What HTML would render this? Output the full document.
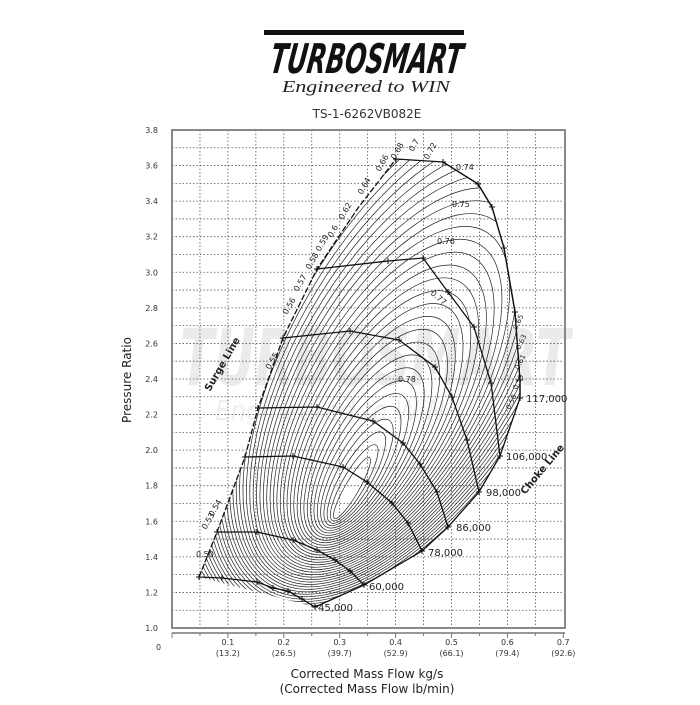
<!DOCTYPE html>
<html><head><meta charset="utf-8"><style>
body{margin:0;background:#fff;width:700px;height:700px;overflow:hidden}
svg text{font-family:"DejaVu Sans","Liberation Sans",sans-serif}
</style></head><body>
<svg id="s" width="700" height="700" viewBox="0 0 700 700" xmlns="http://www.w3.org/2000/svg">
<defs><clipPath id="cp"><path id="cpp" d=""/></clipPath></defs>
<rect width="700" height="700" fill="#fff"/>
<rect x="264" y="30" width="200" height="5" fill="#111"/>
<text x="365" y="73" text-anchor="middle" font-family="Liberation Sans Narrow,Liberation Sans,sans-serif" font-weight="bold" font-style="italic" font-size="41" fill="#111" textLength="192" lengthAdjust="spacingAndGlyphs" transform="skewX(-8) translate(10,0)">TURBOSMART</text>
<text x="366" y="92" text-anchor="middle" font-style="italic" font-size="17" fill="#222" style="font-family:'Liberation Serif',serif" textLength="168" lengthAdjust="spacingAndGlyphs">Engineered to WIN</text>
<text x="367" y="118" text-anchor="middle" font-size="12" fill="#333">TS-1-6262VB082E</text>
<text x="375" y="385" text-anchor="middle" font-weight="bold" font-style="italic" font-size="78" fill="#ebebeb" textLength="390" lengthAdjust="spacingAndGlyphs">TURBOSMART</text>
<text x="330" y="420" text-anchor="middle" font-style="italic" font-size="28" fill="#efefef" textLength="230" lengthAdjust="spacingAndGlyphs">Engineered to WIN</text>
<g id="grid"></g>
<rect x="172" y="130" width="393" height="498" fill="none" stroke="#888" stroke-width="2"/>
<g id="eff" clip-path="url(#cp)" fill="none" stroke="#222" stroke-width="0.7"></g>
<g id="lines" fill="none" stroke="#111" stroke-width="1.3"></g>
<g id="lab" font-size="10" fill="#222"></g>
<text transform="translate(131,380) rotate(-90)" text-anchor="middle" font-size="12" fill="#222">Pressure Ratio</text>
<text x="367" y="678" text-anchor="middle" font-size="12" fill="#222">Corrected Mass Flow kg/s</text>
<text x="367" y="693" text-anchor="middle" font-size="12" fill="#222">(Corrected Mass Flow lb/min)</text>
<text transform="translate(210,392) rotate(-60)" font-size="10" font-weight="bold" fill="#222">Surge Line</text>
<text transform="translate(525,495) rotate(-50)" font-size="10" font-weight="bold" fill="#222">Choke Line</text>
</svg>
<script>
const NS="http://www.w3.org/2000/svg";
function el(p,t,a,txt){const e=document.createElementNS(NS,t);for(const k in a)e.setAttribute(k,a[k]);if(txt!==undefined)e.textContent=txt;document.getElementById(p).appendChild(e);return e;}
for(let i=1;i<14;i++){const x=172+i*27.95;el("grid","line",{x1:x,y1:130,x2:x,y2:628,stroke:"#555","stroke-width":0.8,"stroke-dasharray":"1.5,2"});}
for(let i=1;i<28;i++){const y=628-i*17.786;el("grid","line",{x1:172,y1:y,x2:565,y2:y,stroke:"#555","stroke-width":0.8,"stroke-dasharray":"1.5,2"});}
for(let i=0;i<=14;i++){const v=(1+i*0.2).toFixed(1);el("grid","text",{x:158,y:628-i*35.57+3,"text-anchor":"end","font-size":8,fill:"#333"},v);}
el("grid","line",{x1:172,y1:633,x2:565,y2:633,stroke:"#777","stroke-width":1.5});
const xl=["(13.2)","(26.5)","(39.7)","(52.9)","(66.1)","(79.4)","(92.6)"];
for(let i=0;i<=14;i++){const x=172+i*27.95;el("grid","line",{x1:x,y1:633,x2:x,y2:i%2?636:638,stroke:"#777"});}
for(let i=1;i<=7;i++){const x=172+i*55.9;el("grid","text",{x:x,y:645,"text-anchor":"middle","font-size":8,fill:"#333"},(i/10).toFixed(1));el("grid","text",{x:x,y:656,"text-anchor":"middle","font-size":8,fill:"#333"},xl[i-1]);}
el("grid","text",{x:156,y:650,"font-size":8,fill:"#333"},"0");
const surge=[[199,577],[217,532],[245,457],[258,408],[283,338],[317,269],[358,208],[396,159]];
const choke=[[315,607],[364,585],[422,551],[448,527],[479,492],[500,456],[520,398],[520,380],[515,312],[504,248],[492,207],[478,184],[443,162]];
const speeds=[
[[199,577],[222,578],[257,582],[273,588],[288,591],[302,599],[315,607]],
[[217,532],[257,532],[293,540],[317,550],[335,560],[350,571],[364,585]],
[[245,457],[293,456],[343,467],[367,482],[392,503],[408,523],[422,551]],
[[258,408],[317,407],[373,421],[403,443],[420,464],[437,492],[448,527]],
[[283,338],[350,331],[399,340],[435,367],[452,397],[467,440],[479,492]],
[[317,269],[388,261],[423,258],[448,292],[474,327],[491,383],[500,456]],
[[396,159],[443,162],[478,184],[492,207],[504,248],[515,312],[520,380],[520,398]]];
const pl=a=>"M"+a.map(p=>p.join(",")).join("L");
document.getElementById("cpp").setAttribute("d",pl(surge)+"L"+[...choke].reverse().map(p=>p.join(",")).join("L")+"Z");
for(let i=0;i<46;i++){
 const a=35+i*8.5,b=7+i*4.2,cx=352+i*2.2,cy=488-i*5.2;
 el("eff","ellipse",{cx:cx,cy:cy,rx:a,ry:b,transform:`rotate(-60 ${cx} ${cy})`});
}
el("lines","path",{d:pl(surge),"stroke-dasharray":"6,2"});
el("lines","path",{d:pl(choke)});
speeds.forEach(s=>{el("lines","path",{d:pl(s)});s.forEach(p=>{el("lines","path",{d:`M${p[0]-3},${p[1]}h6M${p[0]},${p[1]-3}v6`,"stroke-width":1});});});
[["45,000",318,611],["60,000",369,590],["78,000",428,556],["86,000",456,531],["98,000",486,496],["106,000",506,460],["117,000",526,402]].forEach(t=>el("lab","text",{x:t[1],y:t[2]},t[0]));
[["0.74",456,170,0],["0.75",452,207,0],["0.76",437,244,0],["0.77",430,294,40],["0.78",398,382,0]].forEach(t=>el("lab","text",{x:t[1],y:t[2],"font-size":8,transform:`rotate(${t[3]} ${t[1]} ${t[2]})`},t[0]));
[["0.68",395,160],["0.7",413,152],["0.72",428,160],["0.66",380,172],["0.64",362,195],["0.62",343,220],["0.6",332,238],["0.59",320,252],["0.58",310,270],["0.57",298,292],["0.56",287,315],["0.55",270,370],["0.54",213,517],["0.53",206,530]].forEach(t=>el("lab","text",{x:t[1],y:t[2],"font-size":8,transform:`rotate(-60 ${t[1]} ${t[2]})`},t[0]));
el("lab","text",{x:196,y:557,"font-size":8},"0.50");
[["0.65",517,330],["0.63",520,350],["0.61",519,370],["0.59",517,390],["0.58",510,410]].forEach(t=>el("lab","text",{x:t[1],y:t[2],"font-size":7,transform:`rotate(-65 ${t[1]} ${t[2]})`},t[0]));
</script>
</body></html>
